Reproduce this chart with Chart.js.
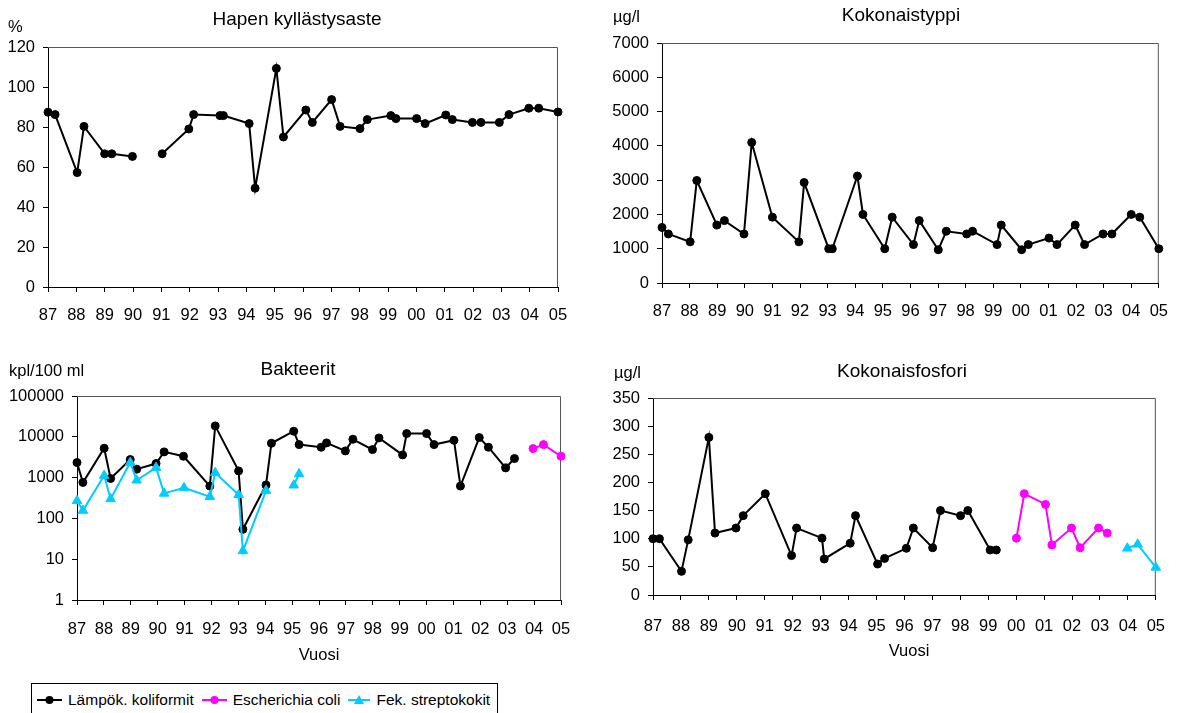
<!DOCTYPE html>
<html lang="fi">
<head>
<meta charset="utf-8">
<title>Vedenlaatu 1987–2005</title>
<script src="https://cdn.jsdelivr.net/npm/chart.js@4/dist/chart.umd.min.js"></script>
<style>
  body { margin: 0; background: #fff; }
  #pohja { position: relative; width: 1182px; height: 713px; overflow: hidden; font-family: 'Liberation Sans', Arial, sans-serif; }
  canvas { position: absolute; }
  #selite {
    position: absolute; left: 31px; top: 683px; height: 34px;
    border: 1px solid #000; display: flex; align-items: center; white-space: nowrap;
    font-size: 15.5px; color: #000; padding: 0 7px 0 5px; box-sizing: border-box;
  }
  #selite span { display: inline-flex; align-items: center; flex-shrink: 0; margin-right: 8px; }
  #selite span:last-child { margin-right: 0; }
  #selite svg { margin-right: 6px; }
</style>
</head>
<body>
<div id="pohja">
  <canvas id="happi" width="591" height="340" style="left:0;top:0"></canvas>
  <canvas id="typpi" width="591" height="340" style="left:591px;top:0"></canvas>
  <canvas id="bakteerit" width="591" height="335" style="left:0;top:340px"></canvas>
  <canvas id="fosfori" width="591" height="335" style="left:591px;top:340px"></canvas>
  <div id="selite">
    <span><svg width="25" height="12"><line x1="0" y1="6" x2="25" y2="6" stroke="#000" stroke-width="2"/><circle cx="12.5" cy="6" r="4" fill="#000"/></svg>Lämpök. koliformit</span>
    <span><svg width="25" height="12"><line x1="0" y1="6" x2="25" y2="6" stroke="#FF00FF" stroke-width="2"/><circle cx="12.5" cy="6" r="4" fill="#FF00FF"/></svg>Escherichia coli</span>
    <span><svg width="22" height="12"><line x1="0" y1="6" x2="22" y2="6" stroke="#00CCFF" stroke-width="2"/><polygon points="11,1 16,10 6,10" fill="#00CCFF"/></svg>Fek. streptokokit</span>
  </div>
</div>
<script>
// x-akselin vuodet ja niiden nimiöt
var vuosiTikit = [1987, 1988, 1989, 1990, 1991, 1992, 1993, 1994, 1995, 1996,
  1997, 1998, 1999, 2000, 2001, 2002, 2003, 2004, 2005];
var vuosiNimiot = ['87', '88', '89', '90', '91', '92', '93', '94', '95', '96',
  '97', '98', '99', '00', '01', '02', '03', '04', '05'];

// Hapen kyllästysaste, %
var happiVuodet = [1987.0, 1987.25, 1988.03, 1988.27, 1989.0, 1989.25, 1989.98, 1990.5,
  1991.03, 1991.97, 1992.14, 1993.07, 1993.19, 1994.1, 1994.31, 1995.06, 1995.31,
  1996.1, 1996.33, 1997.01, 1997.31, 1998.01, 1998.27, 1999.1, 1999.28, 2000.01, 2000.31,
  2001.04, 2001.27, 2001.98, 2002.28, 2002.93, 2003.27, 2003.97, 2004.32, 2005.0];
var happiArvot = [87.4, 86.2, 57.2, 80.3, 66.6, 66.6, 65.3, null,
  66.6, 79, 86.2, 85.7, 85.7, 81.7, 49.4, 109.3, 75,
  88.5, 82.3, 93.7, 80.3, 79.2, 83.7, 85.7, 84.2, 84.2, 81.7,
  86, 83.7, 82.3, 82.3, 82.3, 86.2, 89.4, 89.4, 87.5];
var happiTikit = [0, 20, 40, 60, 80, 100, 120];

// Kokonaistyppi, µg/l
var typpiVuodet = [1987.0, 1987.23, 1988.02, 1988.26, 1988.99, 1989.26, 1989.97, 1990.25,
  1991.0, 1991.96, 1992.15, 1993.04, 1993.17, 1994.08, 1994.28, 1995.07, 1995.34,
  1996.11, 1996.32, 1997.01, 1997.3, 1998.04, 1998.25, 1999.14, 1999.29, 2000.03, 2000.27,
  2001.02, 2001.31, 2001.97, 2002.31, 2002.98, 2003.3, 2004.0, 2004.31, 2005.0];
var typpiArvot = [1620, 1430, 1200, 2990, 1690, 1820, 1430, 4100,
  1920, 1200, 2930, 1000, 1000, 3120, 2000, 1000, 1920,
  1120, 1820, 970, 1510, 1430, 1510, 1120, 1690, 970, 1120,
  1310, 1120, 1690, 1120, 1430, 1430, 2000, 1920, 1000];
var typpiTikit = [0, 1000, 2000, 3000, 4000, 5000, 6000, 7000];

// Bakteerit, kpl/100 ml
var koliVuodet = [1987.0, 1987.22, 1988.01, 1988.25, 1988.98, 1989.22, 1989.94, 1990.24,
  1990.96, 1991.94, 1992.14, 1993.01, 1993.17, 1994.03, 1994.23, 1995.06, 1995.26,
  1996.08, 1996.28, 1996.98, 1997.26, 1997.99, 1998.23, 1999.11, 1999.26, 2000.0, 2000.28,
  2001.02, 2001.26, 2001.96, 2002.3, 2002.94, 2003.27];
var koliArvot = [2340, 760, 5240, 950, 2770, 1610, 2210, 4270,
  3340, 620, 18500, 1460, 54, 660, 6950, 13700, 6440,
  5550, 7080, 4510, 8710, 4860, 9380, 3600, 12000, 12000, 6440,
  8230, 620, 9550, 5550, 1730, 2930];
var ecoliVuodet = [2003.96, 2004.35, 2005.0];
var ecoliArvot = [5140, 6440, 3340];
var streptoVuodet = [1987.0, 1987.22, 1988.01, 1988.25, 1988.98, 1989.22, 1989.94, 1990.24,
  1990.98, 1991.94, 1992.14, 1993.01, 1993.17, 1994.03, 1994.5, 1995.06, 1995.26];
var streptoArvot = [270, 156, 1120, 300, 2340, 860, 1760, 410,
  560, 340, 1310, 380, 16, 480, null, 650, 1230];
var bakteeriTikit = [1, 10, 100, 1000, 10000, 100000];

// Kokonaisfosfori, µg/l
var fosforiVuodet = [1987.0, 1987.23, 1988.02, 1988.26, 1989.0, 1989.22, 1989.97, 1990.23,
  1991.02, 1991.96, 1992.14, 1993.05, 1993.13, 1994.06, 1994.25, 1995.04, 1995.29,
  1996.07, 1996.32, 1997.01, 1997.29, 1998.01, 1998.27, 1999.07, 1999.29];
var fosforiArvot = [100, 100, 42, 98, 280, 110, 119, 141,
  180, 70, 119, 101, 64, 92, 141, 55, 65,
  83, 119, 84, 150, 141, 150, 80, 80];
var fosforiEVuodet = [2000.01, 2000.29, 2001.05, 2001.28, 2001.98, 2002.29, 2002.95, 2003.26];
var fosforiEArvot = [101, 180, 161, 89, 119, 84, 119, 110];
var fosforiSVuodet = [2003.98, 2004.35, 2005.0];
var fosforiSArvot = [83, 90, 49];
var fosforiTikit = [0, 50, 100, 150, 200, 250, 300, 350];

var MUSTA = '#000000';
var VIOLETTI = '#FF00FF';
var SININEN = '#00CCFF';
var FONTTI = "'Liberation Sans', Arial, sans-serif";

function pisteet(vuodet, arvot) {
  return vuodet.map(function (v, i) {
    return { x: v, y: arvot[i] };
  });
}

function sarja(nimi, vuodet, arvot, vari, kolmio, jarjestys) {
  return {
    label: nimi,
    data: pisteet(vuodet, arvot),
    borderColor: vari,
    backgroundColor: vari,
    borderWidth: 2,
    pointStyle: kolmio ? 'triangle' : 'circle',
    pointRadius: kolmio ? 5.5 : 4,
    pointBorderWidth: 1,
    spanGaps: false,
    tension: 0,
    clip: false,
    order: jarjestys || 0,
  };
}

function xAkseli(vali) {
  return {
    type: 'linear',
    min: 1987,
    max: 2005,
    afterBuildTicks: function (s) {
      s.ticks = vuosiTikit.map(function (v) { return { value: v }; });
    },
    afterFit: function (s) { s.height = 40; },
    ticks: {
      autoSkip: false,
      maxRotation: 0,
      padding: vali,
      color: '#000',
      font: { family: FONTTI, size: 16.5 },
      callback: function (v, i) { return vuosiNimiot[i]; },
    },
    grid: { drawOnChartArea: false, drawTicks: true, tickLength: 5, color: '#000' },
    border: { color: '#000', width: 1 },
  };
}

function yAkseli(tikit, leveys, tyyppi) {
  return {
    type: tyyppi || 'linear',
    min: tikit[0],
    max: tikit[tikit.length - 1],
    afterBuildTicks: function (s) {
      s.ticks = tikit.map(function (v) { return { value: v }; });
    },
    afterFit: function (s) { s.width = leveys; },
    ticks: {
      padding: 8,
      color: '#000',
      font: { family: FONTTI, size: 16.5 },
      callback: function (v) { return String(v); },
    },
    grid: { drawOnChartArea: false, drawTicks: true, tickLength: 5, color: '#000' },
    border: { color: '#000', width: 1 },
  };
}

// otsikot, yksiköt ja kuvaajan ylä- ja oikea reuna
function tekstit(rivit) {
  return {
    id: 'tekstit',
    beforeDatasetsDraw: function (chart) {
      var a = chart.chartArea;
      var ctx = chart.ctx;
      ctx.save();
      ctx.strokeStyle = '#555';
      ctx.lineWidth = 1;
      ctx.beginPath();
      ctx.moveTo(a.left, a.top + 0.5);
      ctx.lineTo(a.right - 0.5, a.top + 0.5);
      ctx.lineTo(a.right - 0.5, a.bottom);
      ctx.stroke();
      ctx.restore();
    },
    afterDraw: function (chart) {
      var ctx = chart.ctx;
      ctx.save();
      ctx.fillStyle = '#000';
      ctx.textBaseline = 'middle';
      rivit.forEach(function (r) {
        ctx.font = r.koko + 'px ' + FONTTI;
        ctx.textAlign = r.tasaus || 'center';
        ctx.fillText(r.teksti, r.x, r.y);
      });
      ctx.restore();
    },
  };
}

function kaavio(id, sarjat, yAks, xVali, tila, rivit) {
  return new Chart(document.getElementById(id), {
    type: 'line',
    data: { datasets: sarjat },
    options: {
      responsive: false,
      animation: false,
      devicePixelRatio: 1,
      layout: { padding: tila },
      scales: { x: xAkseli(xVali), y: yAks },
      plugins: { legend: { display: false }, tooltip: { enabled: false } },
    },
    plugins: [tekstit(rivit)],
  });
}

kaavio('happi',
  [sarja('Hapen kyllästysaste', happiVuodet, happiArvot, MUSTA)],
  yAkseli(happiTikit, 48), 14,
  { left: 0, right: 33, top: 47, bottom: 13 },
  [
    { teksti: 'Hapen kyllästysaste', x: 297, y: 20, koko: 19 },
    { teksti: '%', x: 8, y: 27, koko: 16.5, tasaus: 'left' },
  ]);

kaavio('typpi',
  [sarja('Kokonaistyppi', typpiVuodet, typpiArvot, MUSTA)],
  yAkseli(typpiTikit, 71), 14,
  { left: 0, right: 19, top: 43, bottom: 17 },
  [
    { teksti: 'Kokonaistyppi', x: 310, y: 16, koko: 19 },
    { teksti: 'µg/l', x: 22, y: 17, koko: 16.5, tasaus: 'left' },
  ]);

kaavio('bakteerit',
  [
    sarja('Lämpök. koliformit', koliVuodet, koliArvot, MUSTA, false, 2),
    sarja('Escherichia coli', ecoliVuodet, ecoliArvot, VIOLETTI, false, 1),
    sarja('Fek. streptokokit', streptoVuodet, streptoArvot, SININEN, true, 0),
  ],
  yAkseli(bakteeriTikit, 77, 'logarithmic'), 15,
  { left: 0, right: 30, top: 56, bottom: 35 },
  [
    { teksti: 'Bakteerit', x: 298, y: 30, koko: 19 },
    { teksti: 'kpl/100 ml', x: 9, y: 31, koko: 16.5, tasaus: 'left' },
    { teksti: 'Vuosi', x: 319, y: 315, koko: 16.5 },
  ]);

kaavio('fosfori',
  [
    sarja('Kokonaisfosfori', fosforiVuodet, fosforiArvot, MUSTA, false, 2),
    sarja('Kokonaisfosfori', fosforiEVuodet, fosforiEArvot, VIOLETTI, false, 1),
    sarja('Kokonaisfosfori', fosforiSVuodet, fosforiSArvot, SININEN, true, 0),
  ],
  yAkseli(fosforiTikit, 62), 17,
  { left: 0, right: 19, top: 58, bottom: 40 },
  [
    { teksti: 'Kokonaisfosfori', x: 311, y: 32, koko: 19 },
    { teksti: 'µg/l', x: 23, y: 33, koko: 16.5, tasaus: 'left' },
    { teksti: 'Vuosi', x: 318, y: 311, koko: 16.5 },
  ]);
</script>
</body>
</html>
